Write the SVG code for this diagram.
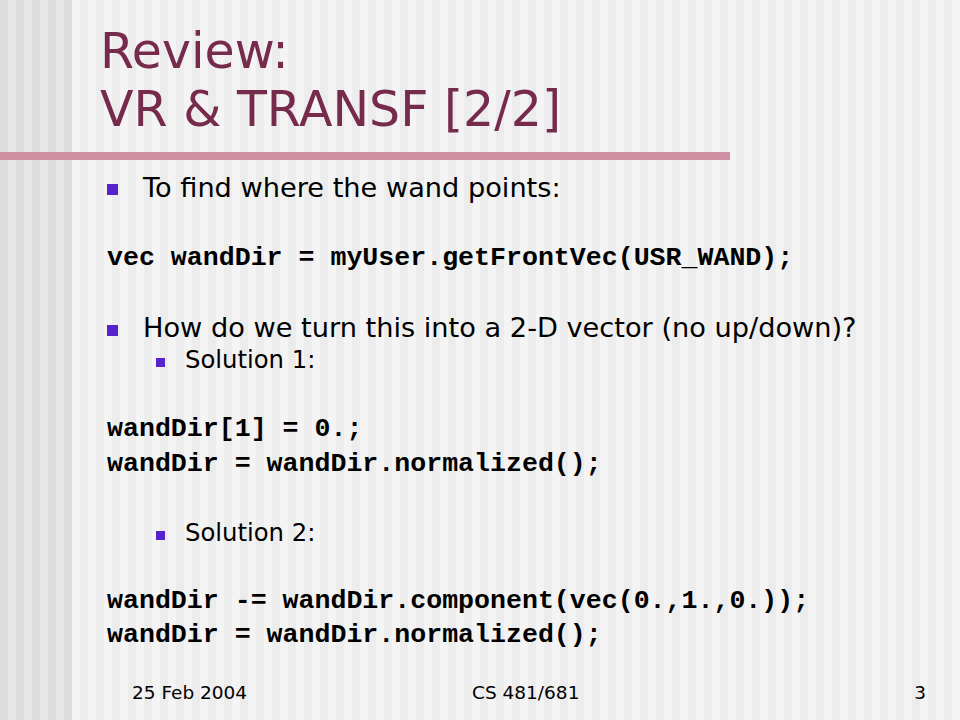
<svg xmlns="http://www.w3.org/2000/svg" width="960" height="720" viewBox="0 0 960 720">
  <defs>
    <pattern id="stripes" width="16" height="720" patternUnits="userSpaceOnUse">
      <rect width="16" height="720" fill="#f4f4f4"/>
      <rect width="8" height="720" fill="#ececec"/>
    </pattern>
    <pattern id="stripesDark" width="16" height="720" patternUnits="userSpaceOnUse">
      <rect width="16" height="720" fill="#e7e7e7"/>
      <rect width="8" height="720" fill="#dcdcdc"/>
    </pattern>
    <style>
      .title { font-family: "DejaVu Sans", Verdana, sans-serif; font-size: 49px; fill: #772b4c; }
      .body { font-family: "DejaVu Sans", Verdana, sans-serif; font-size: 27.2px; fill: #000; }
      .sub { font-family: "DejaVu Sans", Verdana, sans-serif; font-size: 24.3px; fill: #000; }
      .code { font-family: "Liberation Mono", "Courier New", monospace; font-weight: bold; font-size: 26.6px; fill: #000; }
      .foot { font-family: "DejaVu Sans", Verdana, sans-serif; font-size: 18.5px; fill: #000; }
      .bullet { fill: #5522cc; }
    </style>
  </defs>

  <g id="background">
    <rect width="960" height="720" fill="url(#stripes)"/>
    <rect width="72" height="720" fill="url(#stripesDark)"/>
    <rect x="0" y="152" width="730" height="8" fill="#cf8fa3"/>
  </g>

  <g id="title">
    <text class="title" x="100" y="68">Review:</text>
    <text class="title" x="100" y="126">VR &amp; TRANSF [2/2]</text>
  </g>

  <g id="bullet1">
    <rect class="bullet" x="107" y="184" width="11" height="11"/>
    <text class="body" x="143" y="197">To find where the wand points:</text>
  </g>

  <g id="code1">
    <text class="code" x="107" y="265">vec wandDir = myUser.getFrontVec(USR_WAND);</text>
  </g>

  <g id="bullet2">
    <rect class="bullet" x="107" y="325" width="11" height="11"/>
    <text class="body" x="143" y="337">How do we turn this into a 2-D vector (no up/down)?</text>
  </g>

  <g id="sol1">
    <rect class="bullet" x="156" y="358" width="9" height="9"/>
    <text class="sub" x="185" y="368">Solution 1:</text>
  </g>

  <g id="code2">
    <text class="code" x="107" y="436">wandDir[1] = 0.;</text>
    <text class="code" x="107" y="471">wandDir = wandDir.normalized();</text>
  </g>

  <g id="sol2">
    <rect class="bullet" x="156" y="531" width="9" height="9"/>
    <text class="sub" x="185" y="541">Solution 2:</text>
  </g>

  <g id="code3">
    <text class="code" x="107" y="608">wandDir -= wandDir.component(vec(0.,1.,0.));</text>
    <text class="code" x="107" y="642">wandDir = wandDir.normalized();</text>
  </g>

  <g id="footer">
    <text class="foot" x="132" y="699">25 Feb 2004</text>
    <text class="foot" x="472" y="699">CS 481/681</text>
    <text class="foot" x="926" y="699" text-anchor="end">3</text>
  </g>

  <g id="connectors"/>
</svg>
